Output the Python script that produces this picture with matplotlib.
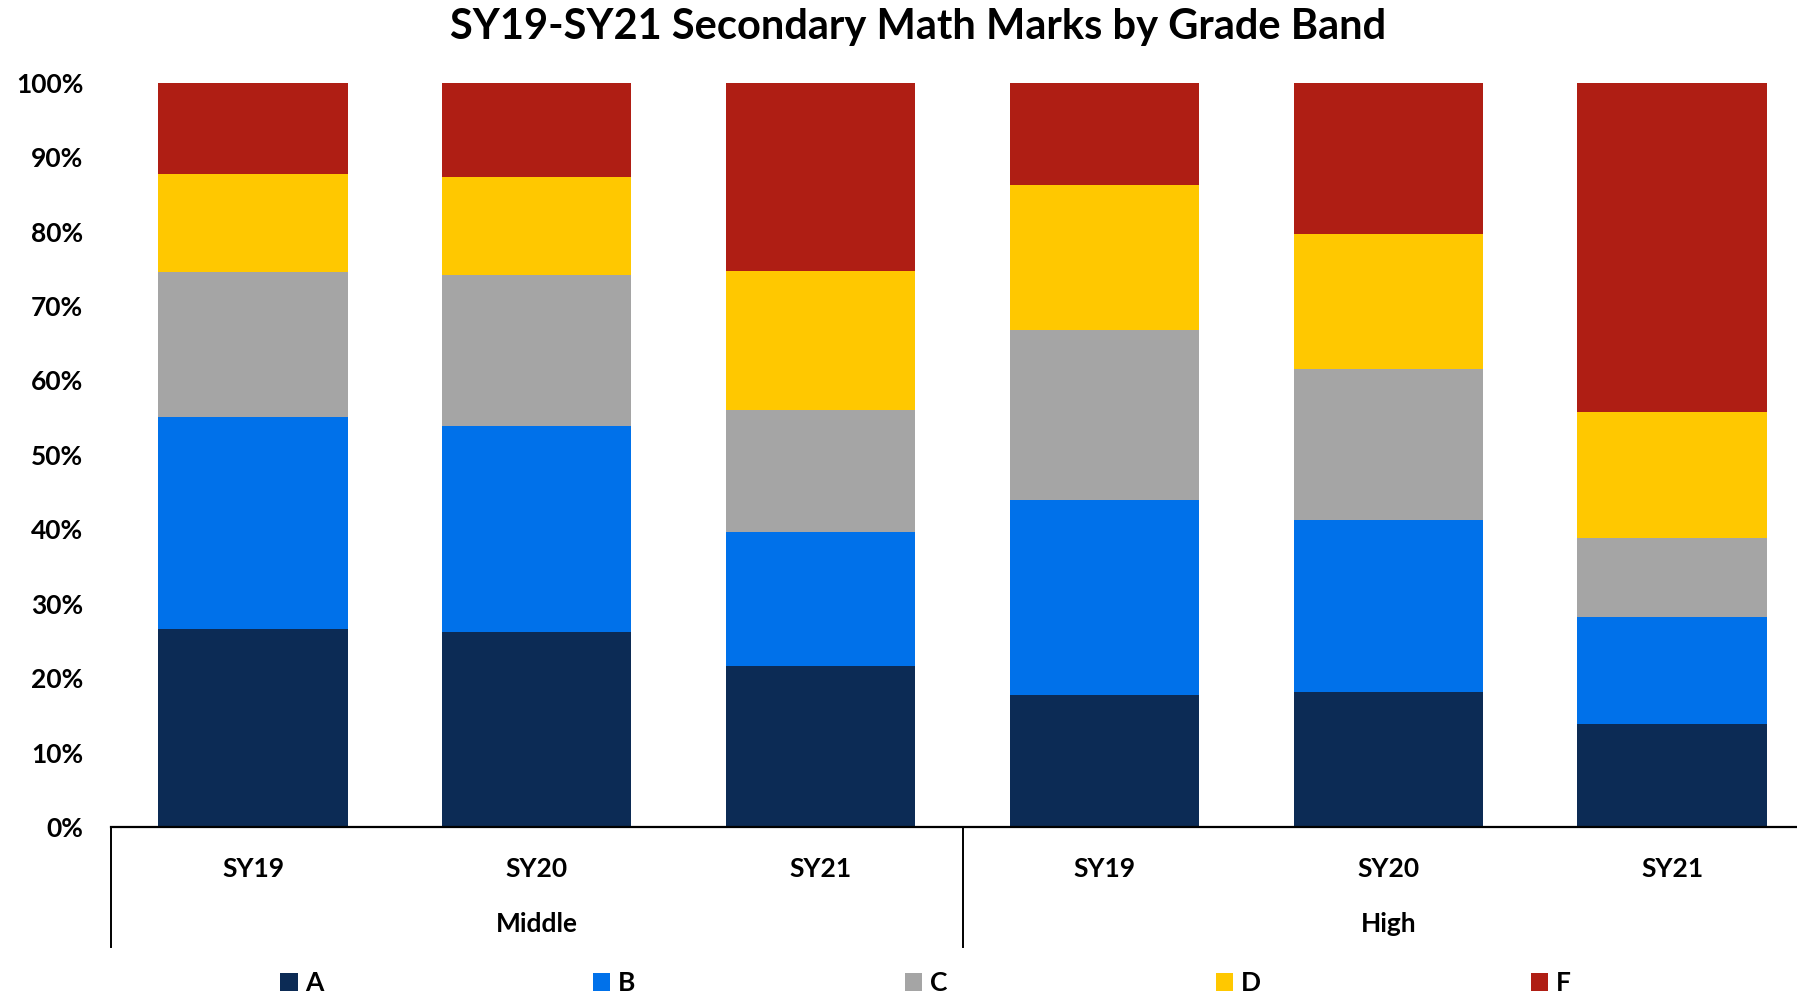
import matplotlib
matplotlib.use("Agg")
import matplotlib.pyplot as plt
import matplotlib.transforms as mtransforms
from matplotlib.patches import Patch
from matplotlib.ticker import FuncFormatter, MultipleLocator
import numpy as np

# ── data (share of marks, %) ─────────────────────────────────────────────
years = ["SY19", "SY20", "SY21", "SY19", "SY20", "SY21"]
bands = ["Middle", "High"]
grades = ["A", "B", "C", "D", "F"]

a_pct = [26.7, 26.3, 21.7, 17.8, 18.2, 13.9]
b_pct = [28.4, 27.6, 18.0, 26.1, 23.1, 14.3]
c_pct = [19.5, 20.3, 16.4, 22.9, 20.2, 10.7]
d_pct = [13.1, 13.1, 18.6, 19.4, 18.2, 16.9]
f_pct = [12.3, 12.7, 25.3, 13.8, 20.3, 44.2]

colors = ["#0C2B55", "#0071EA", "#A5A5A5", "#FFC800", "#AF1E14"]

plt.rcParams["font.family"] = ["Lato", "DejaVu Sans"]

fig = plt.figure(figsize=(17.97, 9.99), dpi=100)
ax = fig.add_axes([0.0618, 0.1717, 0.9477, 0.7457])

x = np.arange(len(years))
bottom = np.zeros(len(years))
for vals, col in zip([a_pct, b_pct, c_pct, d_pct, f_pct], colors):
    v = np.array(vals) / 100.0
    ax.bar(x, v, width=0.667, bottom=bottom, color=col, edgecolor="none")
    bottom += v

ax.set_xlim(-0.5, 5.5)
ax.set_ylim(0, 1)
ax.yaxis.set_major_locator(MultipleLocator(0.1))
ax.yaxis.set_major_formatter(FuncFormatter(lambda v, _: f"{v * 100:.0f}%"))
ax.tick_params(axis="y", length=0, pad=20, labelsize=19)
ax.tick_params(axis="x", length=0, pad=21, labelsize=19)
for lab in ax.get_yticklabels():
    lab.set_fontweight("bold")
ax.set_xticks(x)
ax.set_xticklabels(years, fontweight="bold")

for side in ["top", "right", "left"]:
    ax.spines[side].set_visible(False)
ax.spines["bottom"].set_linewidth(1.6)

# group labels and separators below the axis
trans = mtransforms.blended_transform_factory(ax.transData, ax.transAxes)
for sep in [-0.5, 2.5]:
    ax.plot([sep, sep], [0, -0.16], transform=trans, color="black",
            linewidth=1.4, clip_on=False)
for i, band in enumerate(bands):
    ax.text(i * 3 + 1, -0.13, band, transform=trans, ha="center", va="center",
            fontsize=19, fontweight="bold")

fig.text(0.511, 0.973, "SY19-SY21 Secondary Math Marks by Grade Band",
         ha="center", va="center", fontsize=30, fontweight="bold")

handles = [Patch(facecolor=c, edgecolor="none") for c in colors]
fig.legend(handles, grades, loc="center", bbox_to_anchor=(0.515, 0.016),
           ncol=5, frameon=False, handlelength=0.65, handleheight=0.65,
           handletextpad=0.3, columnspacing=10.2,
           prop={"size": 19, "weight": "bold"})

fig.savefig("out.png", dpi=100)
